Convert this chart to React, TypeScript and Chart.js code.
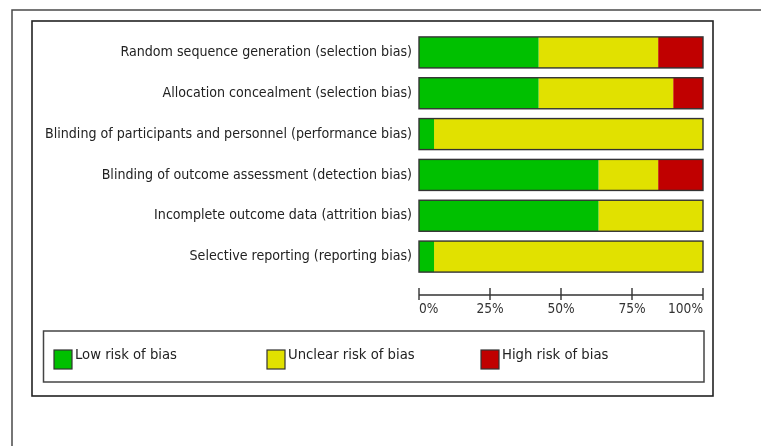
import React, { useEffect, useRef } from "react";
import { Chart, registerables } from "chart.js";

Chart.register(...registerables);

const categories = [
  "Random sequence generation (selection bias)",
  "Allocation concealment (selection bias)",
  "Blinding of participants and personnel (performance bias)",
  "Blinding of outcome assessment (detection bias)",
  "Incomplete outcome data (attrition bias)",
  "Selective reporting (reporting bias)",
];
const lowRisk = [42.1, 42.1, 5.3, 63.2, 63.2, 5.3];
const unclearRisk = [42.1, 47.4, 94.7, 21.0, 36.8, 94.7];
const highRisk = [15.8, 10.5, 0, 15.8, 0, 0];
const seriesNames = ["Low risk of bias", "Unclear risk of bias", "High risk of bias"];
const seriesColors = ["#00c000", "#e1e100", "#c00000"];
const xTickValues = [0, 25, 50, 75, 100];

const FONT = '"Liberation Sans Narrow", "DejaVu Sans Condensed", "Liberation Sans", sans-serif';

const decorPlugin = {
  id: "decor",
  beforeDraw(chart: any) {
    const ctx = chart.ctx;
    ctx.save();
    ctx.fillStyle = "#ffffff";
    ctx.fillRect(0, 0, chart.width, chart.height);
    // outer frame
    ctx.strokeStyle = "#4a4a4a";
    ctx.lineWidth = 1.5;
    ctx.beginPath();
    ctx.moveTo(12, chart.height);
    ctx.lineTo(12, 10);
    ctx.lineTo(chart.width, 10);
    ctx.stroke();
    // inner box
    ctx.strokeStyle = "#222";
    ctx.lineWidth = 1.6;
    ctx.strokeRect(32, 21, 681, 375);
    ctx.restore();
  },
  afterDatasetsDraw(chart: any) {
    const ctx = chart.ctx;
    const xs = chart.scales.x;
    const x0 = xs.getPixelForValue(0);
    const x1 = xs.getPixelForValue(100);
    const meta = chart.getDatasetMeta(0);
    ctx.save();
    ctx.strokeStyle = "#333";
    ctx.lineWidth = 1.4;
    meta.data.forEach((el: any) => {
      const { y, height } = el.getProps(["y", "height"], true);
      ctx.strokeRect(x0, y - height / 2, x1 - x0, height);
    });
    // axis line with crossing ticks
    const ay = chart.chartArea.bottom + 18;
    ctx.strokeStyle = "#333";
    ctx.lineWidth = 1.4;
    ctx.beginPath();
    ctx.moveTo(x0, ay);
    ctx.lineTo(x1, ay);
    xTickValues.forEach((v) => {
      const px = xs.getPixelForValue(v);
      ctx.moveTo(px, ay - 7);
      ctx.lineTo(px, ay + 5);
    });
    ctx.stroke();
    ctx.restore();
  },
  afterDraw(chart: any) {
    const ctx = chart.ctx;
    ctx.save();
    ctx.strokeStyle = "#444";
    ctx.lineWidth = 1.5;
    ctx.strokeRect(43.5, 331, 660.5, 51);
    const itemX = [54, 267, 481];
    chart.data.datasets.forEach((ds: any, i: number) => {
      const x = itemX[i];
      ctx.fillStyle = ds.backgroundColor;
      ctx.fillRect(x, 350, 18, 19);
      ctx.strokeStyle = "#333";
      ctx.lineWidth = 1.2;
      ctx.strokeRect(x, 350, 18, 19);
      ctx.fillStyle = "#222";
      ctx.font = `14.7px ${FONT}`;
      ctx.textBaseline = "middle";
      ctx.textAlign = "left";
      ctx.fillText(ds.label, x + 21, 355);
    });
    ctx.restore();
  },
};

export default function App() {
  const ref = useRef<HTMLCanvasElement | null>(null);
  useEffect(() => {
    if (!ref.current) return;
    const chart = new Chart(ref.current, {
      type: "bar",
      data: {
        labels: categories,
        datasets: [
          { label: seriesNames[0], data: lowRisk, backgroundColor: seriesColors[0], borderWidth: 0 },
          { label: seriesNames[1], data: unclearRisk, backgroundColor: seriesColors[1], borderWidth: 0 },
          { label: seriesNames[2], data: highRisk, backgroundColor: seriesColors[2], borderWidth: 0 },
        ],
      },
      options: {
        indexAxis: "y",
        responsive: false,
        animation: false,
        devicePixelRatio: 1,
        layout: { padding: { left: 0, right: 58, top: 32, bottom: 0 } },
        datasets: { bar: { categoryPercentage: 1, barPercentage: 0.76 } },
        plugins: { legend: { display: false }, tooltip: { enabled: false } },
        scales: {
          x: {
            stacked: true,
            min: 0,
            max: 100,
            grid: { display: false, drawTicks: false },
            border: { display: false },
            afterBuildTicks: (s: any) => {
              s.ticks = xTickValues.map((v) => ({ value: v }));
            },
            afterFit: (s: any) => {
              s.height = 169;
            },
            ticks: {
              align: "inner",
              padding: 24,
              color: "#333",
              font: { family: FONT, size: 13.6 },
              callback: (v: any) => `${v}%`,
              maxRotation: 0,
            },
          },
          y: {
            stacked: true,
            grid: { display: false, drawTicks: false },
            border: { display: false },
            afterFit: (s: any) => {
              s.width = 419;
            },
            ticks: {
              padding: 7,
              color: "#222",
              font: { family: FONT, size: 14.1 },
            },
          },
        },
      },
      plugins: [decorPlugin],
    } as any);
    return () => chart.destroy();
  }, []);
  return (
    <div style={{ position: "absolute", left: 0, top: 0, width: 761, height: 446 }}>
      <canvas ref={ref} width={761} height={446} style={{ display: "block", width: 761, height: 446 }} />
    </div>
  );
}
